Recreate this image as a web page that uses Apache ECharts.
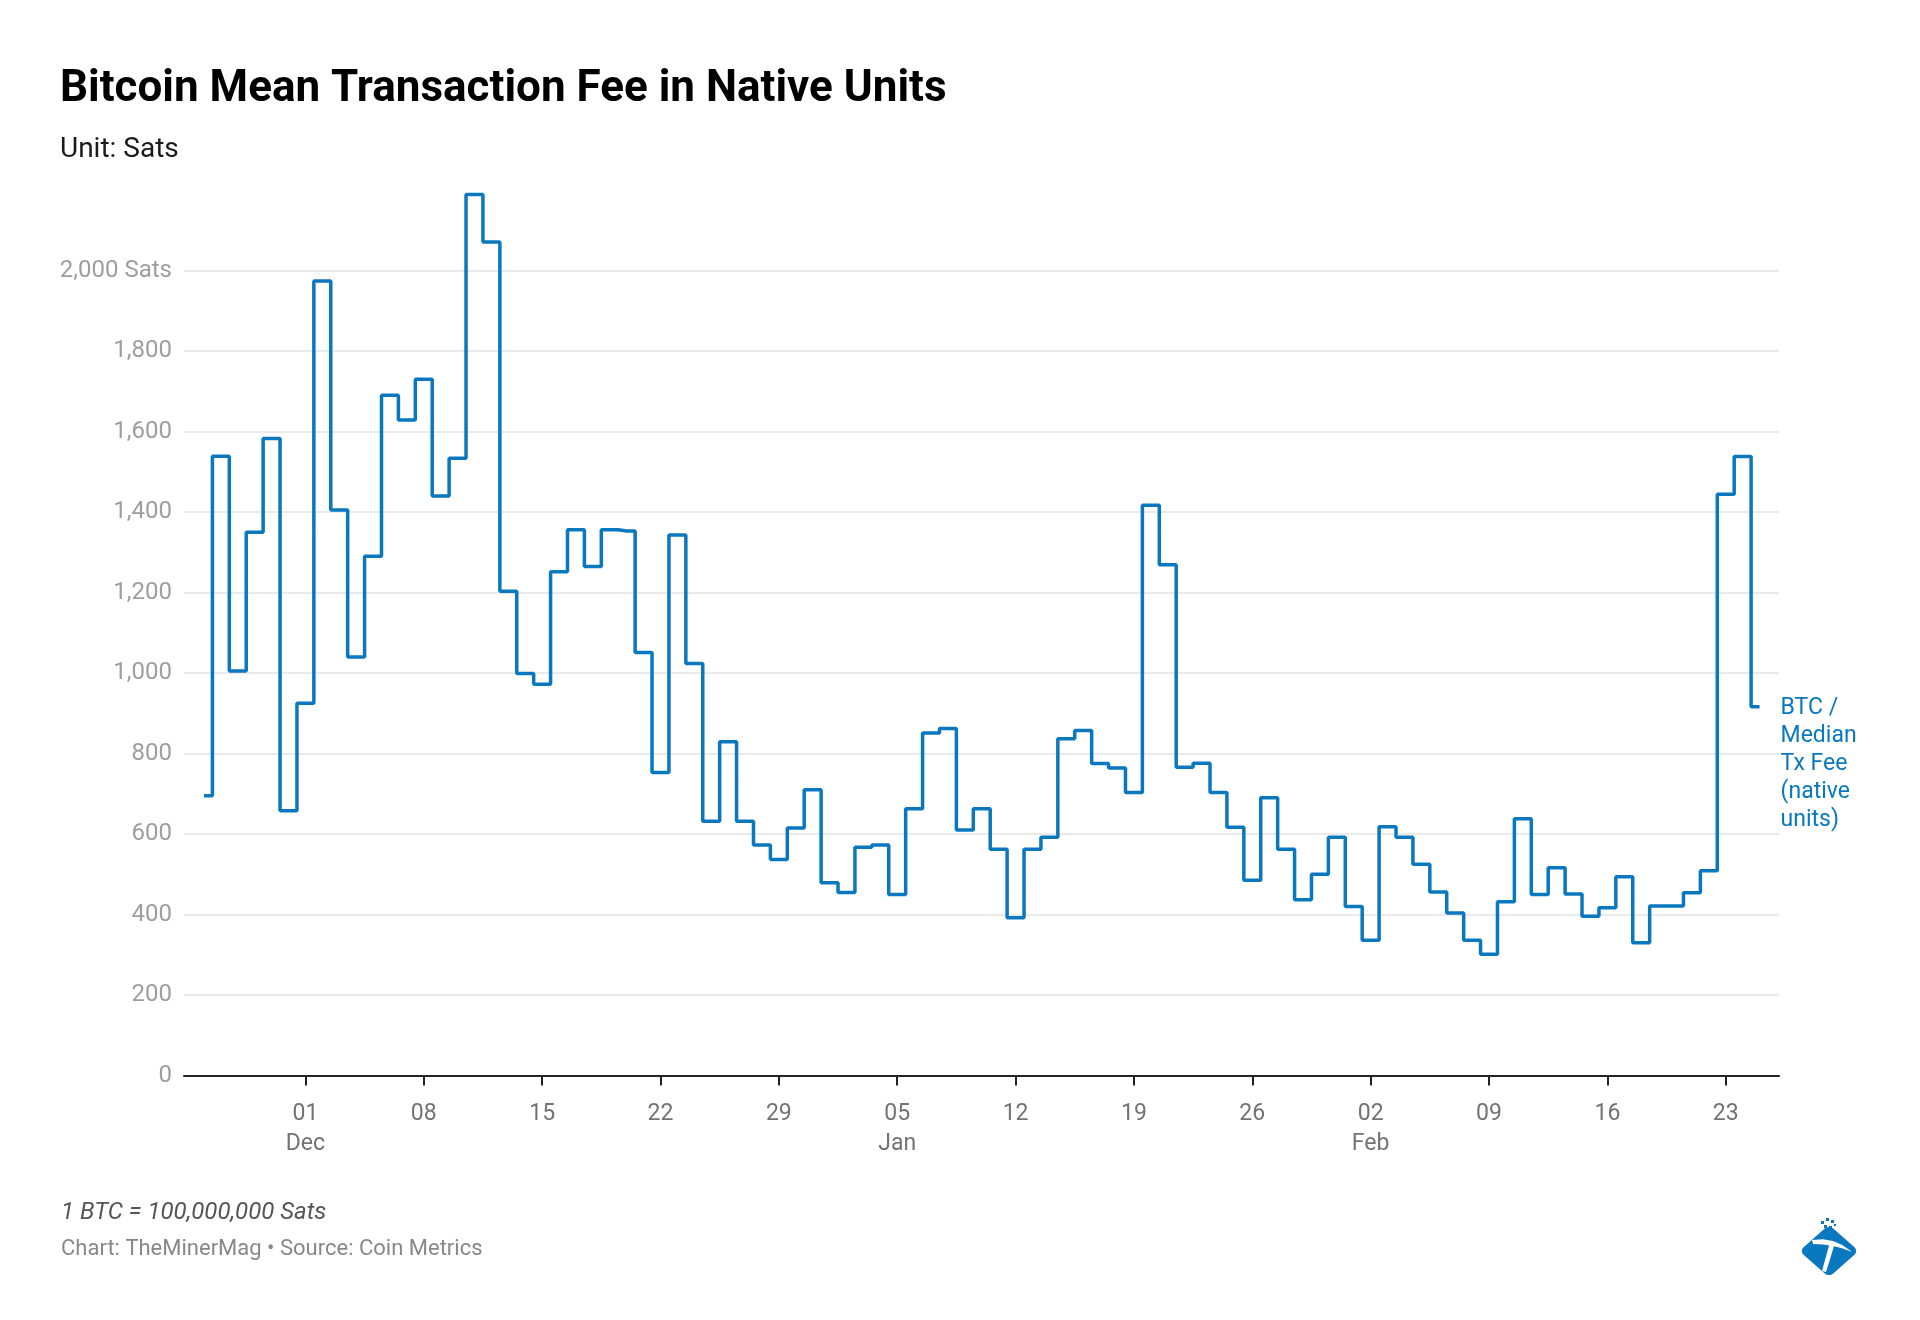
<!DOCTYPE html>
<html>
<head>
<meta charset="utf-8">
<script src="https://cdn.jsdelivr.net/npm/echarts@6/dist/echarts.min.js"></script>
<style>
html,body{margin:0;padding:0;background:#fff;}
#chart{width:1920px;height:1320px;}
</style>
</head>
<body>
<div id="chart"></div>
<script>
// ---- data ----
const dates = [
 '2024-11-25','2024-11-26','2024-11-27','2024-11-28','2024-11-29','2024-11-30',
 '2024-12-01','2024-12-02','2024-12-03','2024-12-04','2024-12-05','2024-12-06','2024-12-07',
 '2024-12-08','2024-12-09','2024-12-10','2024-12-11','2024-12-12','2024-12-13','2024-12-14',
 '2024-12-15','2024-12-16','2024-12-17','2024-12-18','2024-12-19','2024-12-20','2024-12-21',
 '2024-12-22','2024-12-23','2024-12-24','2024-12-25','2024-12-26','2024-12-27','2024-12-28',
 '2024-12-29','2024-12-30','2024-12-31',
 '2025-01-01','2025-01-02','2025-01-03','2025-01-04','2025-01-05','2025-01-06','2025-01-07',
 '2025-01-08','2025-01-09','2025-01-10','2025-01-11','2025-01-12','2025-01-13','2025-01-14',
 '2025-01-15','2025-01-16','2025-01-17','2025-01-18','2025-01-19','2025-01-20','2025-01-21',
 '2025-01-22','2025-01-23','2025-01-24','2025-01-25','2025-01-26','2025-01-27','2025-01-28',
 '2025-01-29','2025-01-30','2025-01-31',
 '2025-02-01','2025-02-02','2025-02-03','2025-02-04','2025-02-05','2025-02-06','2025-02-07',
 '2025-02-08','2025-02-09','2025-02-10','2025-02-11','2025-02-12','2025-02-13','2025-02-14',
 '2025-02-15','2025-02-16','2025-02-17','2025-02-18','2025-02-19','2025-02-20','2025-02-21',
 '2025-02-22','2025-02-23','2025-02-24','2025-02-25'
];
const feeSats = [
 695,1539,1005,1350,1583,658,
 925,1974,1405,1040,1290,1690,1629,
 1730,1440,1534,2189,2071,1203,999,
 972,1252,1356,1265,1356,1353,1051,
 753,1343,1024,632,829,632,573,
 537,615,710,
 479,455,567,573,450,663,851,
 862,610,663,562,392,562,592,
 837,857,775,764,703,1417,1269,
 766,776,703,617,485,690,562,
 437,500,592,
 420,336,618,592,525,456,404,
 336,301,432,638,450,516,451,
 396,417,494,330,421,421,454,
 509,1444,1538,916
];
const tickDates = ['2024-12-01','2024-12-08','2024-12-15','2024-12-22','2024-12-29',
 '2025-01-05','2025-01-12','2025-01-19','2025-01-26','2025-02-02','2025-02-09',
 '2025-02-16','2025-02-23'];
const yTicks = [0,200,400,600,800,1000,1200,1400,1600,1800,2000];
const monthNames = ['Jan','Feb','Mar','Apr','May','Jun','Jul','Aug','Sep','Oct','Nov','Dec'];
const seriesName = 'BTC / Median Tx Fee (native units)';

// ---- helpers: x measured in days from the first tick date ----
const DAY = 86400000;
function toDate(s){ const p = s.split('-').map(Number); return new Date(p[0], p[1]-1, p[2]); }
const origin = toDate(tickDates[0]).getTime();
function toDay(s){ return Math.round((toDate(s).getTime() - origin) / DAY); }
function dayToDate(x){ return new Date(origin + Math.round(x) * DAY + 3600000 * 2); }
const seriesData = dates.map((d,i) => [toDay(d), feeSats[i]]);
const tickDays = tickDates.map(toDay);
const BLUE = '#0a78be';
const FONT = 'Roboto';

const chart = echarts.init(document.getElementById('chart'), null, {renderer:'canvas'});
chart.setOption({
  animation:false,
  backgroundColor:'#ffffff',
  grid:{left:184, right:141, top:270.6, bottom:244.5, containLabel:false},
  xAxis:{
    type:'value',
    min: toDay(dates[0]) - 1.18,
    max: toDay(dates[dates.length-1]) + 1.15,
    axisLine:{show:true, onZero:false, lineStyle:{color:'#222', width:2}},
    axisTick:{show:true, customValues: tickDays, length:10, lineStyle:{color:'#222', width:2}},
    axisLabel:{
      customValues: tickDays,
      color:'#737373', fontFamily:FONT, fontSize:23, lineHeight:30, margin:24,
      formatter:function(v){
        const d = dayToDate(v);
        const dd = String(d.getDate()).padStart(2,'0');
        return d.getDate() <= 7 ? dd + '\n' + monthNames[d.getMonth()] : dd;
      }
    },
    splitLine:{show:false}
  },
  yAxis:{
    type:'value', min:yTicks[0], max:yTicks[yTicks.length-1], interval:200,
    axisLine:{show:false}, axisTick:{show:false},
    axisLabel:{
      color:'#9e9e9e', fontFamily:FONT, fontSize:24, margin:12, padding:[8,0,0,0],
      formatter:function(v){
        const s = v.toLocaleString('en-US');
        return v === 2000 ? s + ' Sats' : s;
      }
    },
    splitLine:{show:true, lineStyle:{color:'#e3e3e3', width:1.5}}
  },
  series:[{
    name:seriesName,
    type:'line',
    step:'middle',
    data:seriesData,
    showSymbol:false,
    clip:false,
    lineStyle:{color:BLUE, width:3.5},
    itemStyle:{color:BLUE},
    endLabel:{
      show:true,
      formatter:'BTC /\nMedian\nTx Fee\n(native\nunits)',
      color:BLUE, fontFamily:FONT, fontSize:23, lineHeight:28,
      distance:21, align:'left', verticalAlign:'middle', offset:[0,57]
    }
  }],
  graphic:[
    {type:'text', x:60, y:90, style:{text:'Bitcoin Mean Transaction Fee in Native Units', fill:'#000', font:'bold 44px Roboto', verticalAlign:'middle'}},
    {type:'text', x:60, y:149.5, style:{text:'Unit: Sats', fill:'#1a1a1a', font:'28px Roboto', verticalAlign:'middle'}},
    {type:'text', x:61, y:1212.5, style:{text:'1 BTC = 100,000,000 Sats', fill:'#555', font:'italic 24px Roboto', verticalAlign:'middle'}},
    {type:'text', x:61, y:1249, style:{text:'Chart: TheMinerMag \u2022 Source: Coin Metrics', fill:'#888', font:'22px Roboto', verticalAlign:'middle'}},
    {type:'group', x:1829, y:1251, scaleY:0.88, children:[
      {type:'rect', rotation:Math.PI/4, shape:{x:-21, y:-21, width:42, height:42, r:6}, style:{fill:BLUE}}
    ]},
    {type:'polygon', shape:{points:[[1812,1240],[1822.8,1239.3],[1833,1241],[1842.8,1245.3],[1852,1252],[1842.8,1248.5],[1833.3,1246],[1823.3,1244.5],[1813,1244]]}, style:{fill:'#fff'}},
    {type:'polygon', shape:{points:[[1830,1242],[1835,1243],[1826,1272],[1822,1271]]}, style:{fill:'#fff'}},
    {type:'rect', shape:{x:1821, y:1221, width:3, height:3}, style:{fill:BLUE}},
    {type:'rect', shape:{x:1826, y:1218, width:3, height:3}, style:{fill:BLUE}},
    {type:'rect', shape:{x:1831, y:1220, width:3, height:3}, style:{fill:BLUE}},
    {type:'rect', shape:{x:1824, y:1225, width:3, height:3}, style:{fill:BLUE}},
    {type:'rect', shape:{x:1829, y:1226, width:3, height:3}, style:{fill:BLUE}},
    {type:'rect', shape:{x:1834, y:1224, width:2, height:2}, style:{fill:BLUE}}
  ]
});
</script>
</body>
</html>
